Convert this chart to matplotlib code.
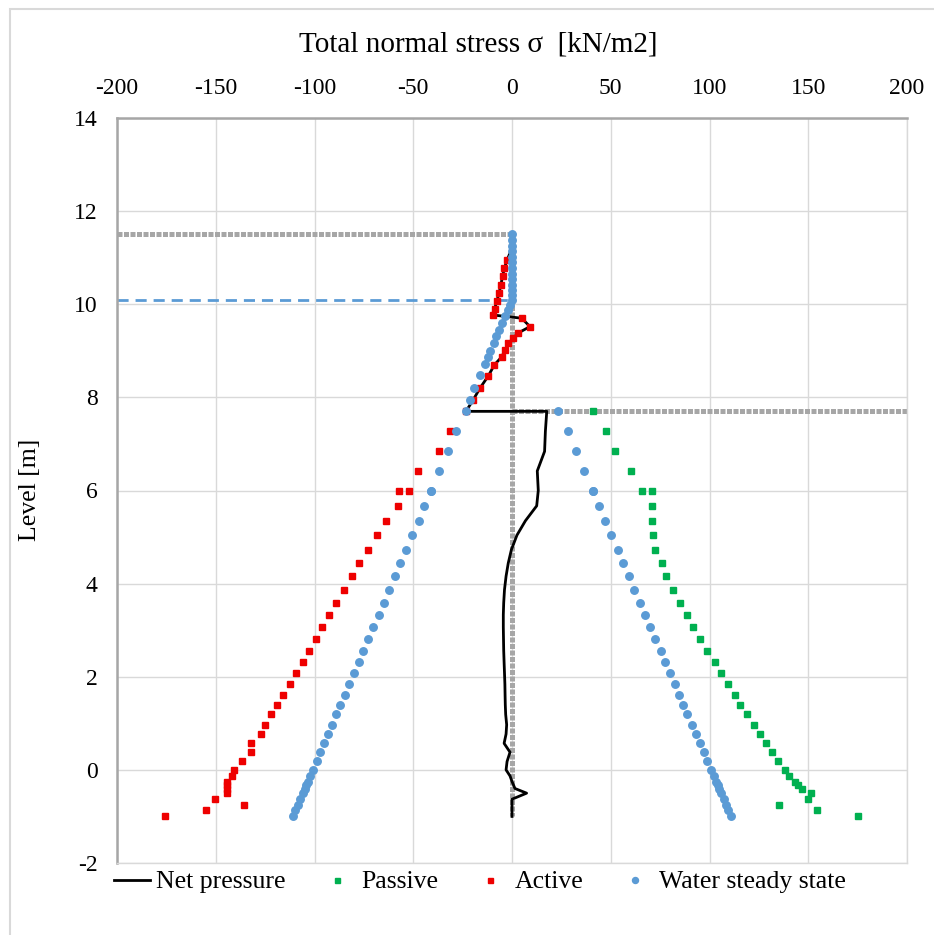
import matplotlib
matplotlib.use("Agg")
import matplotlib.pyplot as plt
from matplotlib.patches import Rectangle

plt.rcParams['font.family'] = ['Liberation Serif', 'DejaVu Serif']
plt.rcParams['axes.unicode_minus'] = False

# Niveaus unterhalb der Baugrubensohle (7.7 m) - gemeinsam fuer aktiv/passiv/Wasser
lev_low = [7.7, 7.27, 6.84, 6.42, 6.0, 6.0, 5.67, 5.35, 5.04, 4.73, 4.44, 4.16,
           3.87, 3.59, 3.33, 3.07, 2.81, 2.56, 2.31, 2.08, 1.84, 1.60, 1.40, 1.19,
           0.97, 0.77, 0.57, 0.38, 0.18, 0.0, -0.13, -0.25, -0.33, -0.4, -0.5,
           -0.63, -0.76, -0.87, -1.0]

active_low = [-23.3, -31.2, -36.8, -47.4, -52.0, -57.1, -57.7, -63.8, -68.4, -73.1,
              -77.5, -81.0, -85.1, -89.1, -92.5, -96.0, -99.4, -102.9, -106.0,
              -109.5, -112.6, -115.8, -119.0, -121.9, -125.2, -127.3, -132.2,
              -132.2, -136.6, -140.9, -141.8, -144.5, -144.5, -144.5, -144.3,
              -150.4, -135.7, -154.8, -175.5]

passive_low = [40.9, 47.4, 52.4, 60.4, 65.6, 70.7, 70.7, 70.7, 71.3, 72.6, 75.7,
               78.2, 81.5, 85.2, 88.6, 91.6, 95.2, 98.9, 102.6, 105.8, 109.4,
               112.9, 115.6, 119.1, 122.5, 125.7, 128.6, 131.8, 134.9, 138.2,
               140.4, 143.5, 145.0, 146.8, 151.6, 149.9, 135.4, 154.3, 175.4]

water_right = [23.4, 28.2, 32.4, 36.7, 40.9, 40.9, 44.1, 47.1, 50.2, 53.5, 56.4,
               59.1, 62.0, 64.9, 67.4, 70.0, 72.5, 75.2, 77.5, 79.9, 82.3, 84.6,
               86.7, 88.7, 90.9, 93.1, 95.1, 97.0, 98.9, 100.8, 102.1, 103.3,
               104.1, 104.8, 105.8, 107.1, 108.4, 109.5, 110.8]

water_left = [-23.4, -28.4, -32.6, -37.0, -41.2, -41.2, -44.4, -47.3, -50.5, -53.7,
              -56.6, -59.4, -62.1, -65.0, -67.5, -70.2, -72.7, -75.3, -77.6, -80.0,
              -82.5, -84.7, -86.9, -88.9, -91.1, -93.2, -95.2, -97.1, -98.9,
              -101.0, -102.3, -103.5, -104.3, -105.0, -106.0, -107.3, -108.6,
              -109.7, -111.0]

# oberer Bereich (ueber 7.7 m)
lev_water_top = [11.5, 11.38, 11.26, 11.14, 11.02, 10.9, 10.78, 10.66, 10.54, 10.42,
                 10.3, 10.2, 10.1, 9.98, 9.88, 9.74, 9.6, 9.45, 9.31, 9.17, 8.99,
                 8.87, 8.72, 8.47, 8.2, 7.95]
water_top = [0, 0, 0, 0, 0, 0, 0, 0, 0, 0, 0, 0, 0, -1.0, -2.2, -3.6, -5.0, -6.5,
             -7.9, -9.3, -11.1, -12.3, -13.8, -16.3, -19.0, -21.5]

lev_act_top = [10.95, 10.78, 10.6, 10.42, 10.25, 10.08, 9.9, 9.77, 9.7, 9.52, 9.38,
               9.27, 9.16, 9.02, 8.87, 8.7, 8.46, 8.2, 7.95]
act_top = [-2.5, -3.8, -4.8, -5.6, -6.5, -7.6, -8.8, -9.8, 4.9, 9.1, 3.0, 0.7,
           -1.9, -3.5, -5.2, -8.9, -12.0, -16.2, -19.6]

# Nettodruck
net_lev = [11.1, 10.95, 10.78, 10.6, 10.42, 10.25, 10.08, 9.9, 9.77, 9.7, 9.52,
           9.38, 9.27, 9.16, 9.02, 8.87, 8.7, 8.46, 8.2, 7.95, 7.7, 7.7, 7.27,
           6.84, 6.42, 6.0, 5.67, 5.35, 5.04, 4.73, 4.44, 4.16, 3.87, 3.59, 3.33,
           3.07, 2.81, 2.56, 2.31, 2.08, 1.84, 1.6, 1.4, 1.19, 0.97, 0.77, 0.57,
           0.38, 0.18, 0.0, -0.13, -0.25, -0.4, -0.5, -0.63, -0.76, -0.87, -1.0]
net = [-1.0, -2.5, -3.8, -4.8, -5.6, -6.5, -7.6, -8.8, -9.8, 4.9, 9.1, 3.0, 0.7,
       -1.9, -3.5, -5.2, -8.9, -12.0, -16.2, -19.6, -23.3, 17.6, 16.9, 16.5, 12.8,
       13.3, 12.5, 6.8, 2.5, -0.3, -1.9, -3.0, -3.8, -4.2, -4.4, -4.4, -4.3, -4.2,
       -4.0, -3.8, -3.6, -3.5, -3.4, -3.2, -2.7, -3.0, -4.0, -1.0, -2.5, -3.0,
       -1.0, 0.0, 1.5, 7.4, 0.0, 0.0, 0.0, 0.0]

# Hilfslinien: Gelaende, Wand, Aushub, Wasserspiegel
top_x, top_y = [-200, 0], [11.5, 11.5]
wall_x, wall_y = [0, 0], [11.5, -1.0]
exc_x, exc_y = [0, 200], [7.7, 7.7]
gw_x, gw_y = [-200, 0], [10.1, 10.1]

xticks = [-200, -150, -100, -50, 0, 50, 100, 150, 200]
yticks = [-2, 0, 2, 4, 6, 8, 10, 12, 14]

c_green = '#00b050'
c_red = '#ee0000'
c_blue = '#5b9bd5'
c_ref = '#a6a6a6'

fig = plt.figure(figsize=(9.34, 9.35), dpi=100)
ax = fig.add_axes([117 / 934, 72 / 935, 790 / 934, 745 / 935])

# Hilfslinien
for xs, ys in [(top_x, top_y), (wall_x, wall_y), (exc_x, exc_y)]:
    ax.plot(xs, ys, color=c_ref, lw=3.6, dashes=(1, 0.3), zorder=2)
ax.plot(gw_x, gw_y, color=c_blue, lw=2, dashes=(4, 2.5), zorder=2)

# Datenreihen
ax.plot(net, net_lev, color='black', lw=2, zorder=3, label='Net pressure')
ax.plot(passive_low, lev_low, 's', color=c_green, ms=4.5, ls='none', zorder=4,
        label='Passive')
ax.plot(act_top + active_low, lev_act_top + lev_low, 's', color=c_red, ms=4.5,
        ls='none', zorder=4, label='Active')
ax.plot(water_top + water_left, lev_water_top + lev_low, 'o', color=c_blue, ms=5.4,
        ls='none', zorder=5, label='Water steady state')
ax.plot(water_right, lev_low, 'o', color=c_blue, ms=5.4, ls='none', zorder=5)

ax.set_xlim(-200, 200)
ax.set_ylim(-2, 14)
ax.set_xticks(xticks)
ax.set_yticks(yticks)
ax.xaxis.tick_top()
ax.tick_params(axis='x', length=0, pad=14, labelsize=17)
ax.tick_params(axis='y', length=0, pad=14, labelsize=17)
ax.grid(True, color='#d9d9d9', lw=1)
ax.set_axisbelow(True)
for s in ['top', 'left']:
    ax.spines[s].set_color('#a6a6a6')
    ax.spines[s].set_linewidth(1.8)
for s in ['bottom', 'right']:
    ax.spines[s].set_color('#d9d9d9')
    ax.spines[s].set_linewidth(1)

fig.text(478 / 934, 1 - 45 / 935, 'Total normal stress σ  [kN/m2]', ha='center',
         va='center', fontsize=21)
fig.text(30 / 934, 1 - 490 / 935, 'Level [m]', ha='center', va='center',
         rotation=90, fontsize=18.5)

handles, labels = ax.get_legend_handles_labels()
leg = fig.legend(handles, labels, loc='center', bbox_to_anchor=(480 / 934, 1 - 882 / 935),
                 ncol=4, frameon=False, fontsize=18.5, handlelength=1.4,
                 handletextpad=0.25, columnspacing=1.3, markerscale=0.8)

# Rahmen des Diagrammbereichs
fig.patches.append(Rectangle((10 / 934, -0.1), 1.2, 1.1 - 9 / 935,
                             transform=fig.transFigure, fill=False,
                             edgecolor='#d9d9d9', lw=1.5))

fig.savefig('out.png', dpi=100)
